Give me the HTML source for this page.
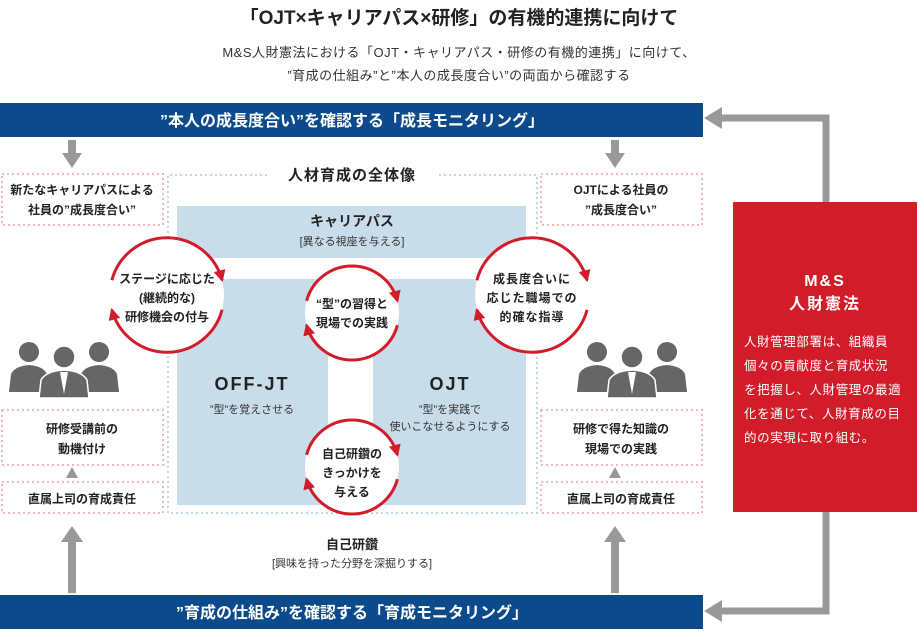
<!DOCTYPE html>
<html><head><meta charset="utf-8"><style>
body{margin:0;width:918px;height:637px;background:#fff;overflow:hidden}
svg text{font-family:"Liberation Sans","Noto Sans CJK JP",sans-serif}
</style></head><body>
<svg width="918" height="637" viewBox="0 0 918 637" xmlns="http://www.w3.org/2000/svg">
<defs>
<g id="ppl" fill="#666">
 <circle cx="20" cy="12" r="10"/><path d="M0 52 L2 34 Q6 26 20 25 Q34 26 38 34 L40 52Z"/>
 <circle cx="90" cy="12" r="10"/><path d="M70 52 L72 34 Q76 26 90 25 Q104 26 108 34 L110 52Z"/>
 <circle cx="55" cy="17" r="11" stroke="#fff" stroke-width="1.5"/><path d="M30 58 L32 40 Q37 31 55 30 Q73 31 78 40 L80 58Z" stroke="#fff" stroke-width="1.5"/>
 <path d="M51 32 L55 54 L59 32Z" fill="#fff"/>
</g>
<marker id="ra" markerWidth="12" markerHeight="12" refX="10" refY="6" orient="auto" markerUnits="userSpaceOnUse"><path d="M0 0L12 6L0 12Z" fill="#d21c2a"/></marker>
</defs>
<text x="459" y="24" font-size="19" font-weight="bold" text-anchor="middle" fill="#222">「OJT×キャリアパス×研修」の有機的連携に向けて</text>
<text x="459" y="57" font-size="13" text-anchor="middle" fill="#333" letter-spacing="0.5">M&amp;S人財憲法における「OJT・キャリアパス・研修の有機的連携」に向けて、</text>
<text x="459" y="80" font-size="13" text-anchor="middle" fill="#333" letter-spacing="0.5">”育成の仕組み”と”本人の成長度合い”の両面から確認する</text>

<rect x="0" y="103" width="703" height="34" fill="#0c4a8c"/>
<text x="352" y="126" font-size="16" font-weight="bold" text-anchor="middle" fill="#fff">”本人の成長度合い”を確認する「成長モニタリング」</text>
<rect x="0" y="595" width="703" height="34" fill="#0c4a8c"/>
<text x="352" y="618" font-size="16" font-weight="bold" text-anchor="middle" fill="#fff">”育成の仕組み”を確認する「育成モニタリング」</text>

<path d="M826 202 V118 H722" stroke="#999" stroke-width="7" fill="none"/>
<path d="M704 118 L722 107 L722 129Z" fill="#999"/>
<path d="M826 512 V611 H722" stroke="#999" stroke-width="7" fill="none"/>
<path d="M704 611 L722 600 L722 622Z" fill="#999"/>

<rect x="733" y="202" width="184" height="310" fill="#d21c2a"/>
<text x="825" y="286" font-size="16" font-weight="bold" text-anchor="middle" fill="#fff" letter-spacing="2">M&amp;S</text>
<text x="825" y="309" font-size="16" font-weight="bold" text-anchor="middle" fill="#fff" letter-spacing="2">人財憲法</text>
<g font-size="12.5" fill="#fff" letter-spacing="0.6">
<text x="744" y="346">人財管理部署は、組織員</text>
<text x="744" y="370">個々の貢献度と育成状況</text>
<text x="744" y="394">を把握し、人財管理の最適</text>
<text x="744" y="418">化を通じて、人財育成の目</text>
<text x="744" y="442">的の実現に取り組む。</text>
</g>

<rect x="68" y="140" width="8" height="14" fill="#999"/><path d="M62 153 L82 153 L72 168Z" fill="#999"/>
<rect x="611" y="140" width="8" height="14" fill="#999"/><path d="M605 153 L625 153 L615 168Z" fill="#999"/>
<rect x="68" y="540" width="8" height="53" fill="#999"/><path d="M61 542 L83 542 L72 526Z" fill="#999"/>
<rect x="611" y="540" width="8" height="53" fill="#999"/><path d="M604 542 L626 542 L615 526Z" fill="#999"/>
<path d="M66 478 L78 478 L72 467Z" fill="#999"/>
<path d="M609 478 L621 478 L615 467Z" fill="#999"/>

<g fill="none" stroke="#f0b8b8" stroke-width="2" stroke-dasharray="2 3">
<rect x="2" y="174" width="161" height="51"/>
<rect x="2" y="410" width="161" height="55"/>
<rect x="2" y="482" width="161" height="31"/>
<rect x="541" y="174" width="161" height="51"/>
<rect x="541" y="410" width="161" height="55"/>
<rect x="541" y="482" width="161" height="31"/>
</g>
<path d="M267 175 H168 V513 H537 V175 H438" fill="none" stroke="#bcd6ea" stroke-width="2" stroke-dasharray="2 3"/>
<text x="352" y="180" font-size="15" font-weight="bold" text-anchor="middle" fill="#222" letter-spacing="1">人材育成の全体像</text>

<g font-size="12" font-weight="bold" fill="#222" text-anchor="middle">
<text x="82" y="194">新たなキャリアパスによる</text>
<text x="82" y="214">社員の”成長度合い”</text>
<text x="621" y="194">OJTによる社員の</text>
<text x="621" y="214">”成長度合い”</text>
<text x="82" y="433">研修受講前の</text>
<text x="82" y="453">動機付け</text>
<text x="621" y="433">研修で得た知識の</text>
<text x="621" y="453">現場での実践</text>
<text x="82" y="503">直属上司の育成責任</text>
<text x="621" y="503">直属上司の育成責任</text>
</g>

<use href="#ppl" x="9" y="340"/>
<use href="#ppl" x="577" y="340"/>

<rect x="177" y="206" width="349" height="52" fill="#c8dcea"/>
<rect x="177" y="279" width="151" height="226" fill="#c8dcea"/>
<rect x="373" y="279" width="153" height="226" fill="#c8dcea"/>
<text x="352" y="226" font-size="14" font-weight="bold" text-anchor="middle" fill="#222">キャリアパス</text>
<text x="352" y="245" font-size="11" text-anchor="middle" fill="#333">[異なる視座を与える]</text>
<text x="252" y="390" font-size="18" font-weight="bold" text-anchor="middle" fill="#222" letter-spacing="2">OFF-JT</text>
<text x="252" y="413" font-size="11" text-anchor="middle" fill="#333">”型”を覚えさせる</text>
<text x="450" y="390" font-size="18" font-weight="bold" text-anchor="middle" fill="#222" letter-spacing="2">OJT</text>
<text x="450" y="413" font-size="11" text-anchor="middle" fill="#333">”型”を実践で</text>
<text x="450" y="430" font-size="11" text-anchor="middle" fill="#333">使いこなせるようにする</text>

<g fill="#fff">
<circle cx="167" cy="295" r="57"/>
<circle cx="352" cy="313" r="47"/>
<circle cx="532" cy="295" r="57"/>
<circle cx="352" cy="467" r="47"/>
</g>
<g fill="none" stroke="#d21c2a" stroke-width="3" marker-end="url(#ra)">
<path d="M111.9 280.2 A57 57 0 0 1 222.1 280.2"/>
<path d="M222.1 309.8 A57 57 0 0 1 111.9 309.8"/>
<path d="M306.6 300.8 A47 47 0 0 1 397.4 300.8"/>
<path d="M397.4 325.2 A47 47 0 0 1 306.6 325.2"/>
<path d="M476.9 280.2 A57 57 0 0 1 587.1 280.2"/>
<path d="M587.1 309.8 A57 57 0 0 1 476.9 309.8"/>
<path d="M306.6 454.8 A47 47 0 0 1 397.4 454.8"/>
<path d="M397.4 479.2 A47 47 0 0 1 306.6 479.2"/>
</g>
<g font-size="12" font-weight="bold" fill="#222" text-anchor="middle">
<text x="167" y="283">ステージに応じた</text>
<text x="167" y="302">(継続的な)</text>
<text x="167" y="321">研修機会の付与</text>
<text x="352" y="308">“型”の習得と</text>
<text x="352" y="327">現場での実践</text>
<text x="532" y="283" letter-spacing="1">成長度合いに</text>
<text x="532" y="302" letter-spacing="1">応じた職場での</text>
<text x="532" y="321" letter-spacing="1">的確な指導</text>
<text x="352" y="458">自己研鑽の</text>
<text x="352" y="477">きっかけを</text>
<text x="352" y="496">与える</text>
<text x="352" y="549" font-size="13">自己研鑽</text>
</g>
<text x="352" y="567" font-size="11" text-anchor="middle" fill="#333">[興味を持った分野を深掘りする]</text>
</svg>
</body></html>
